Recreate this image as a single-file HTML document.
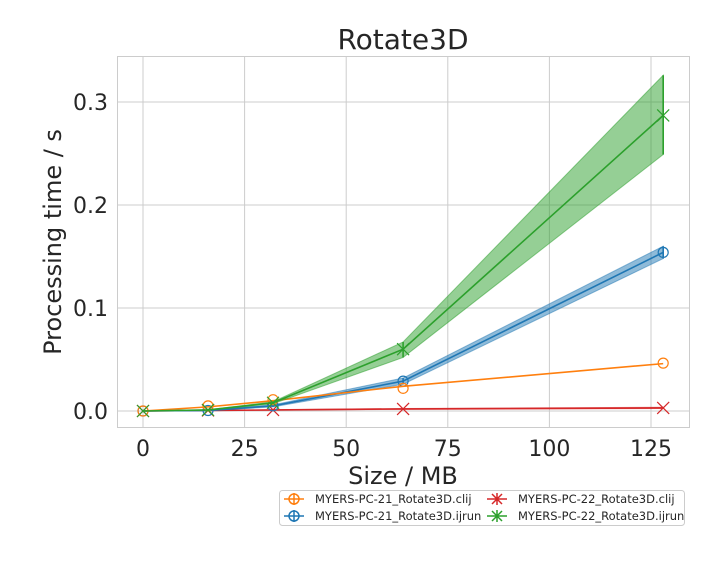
<!DOCTYPE html>
<html><head><meta charset="utf-8"><style>
body{margin:0;background:#fff;font-family:"Liberation Sans","DejaVu Sans",sans-serif;}
svg text{font-family:"DejaVu Sans","Liberation Sans",sans-serif;fill:#262626;}
</style></head><body>
<svg id="c" width="720" height="560" xmlns="http://www.w3.org/2000/svg">
<rect x="117" y="56" width="573" height="372" fill="#fff"/>
<g id="grid"></g>
<g id="series"></g>
<g id="axes"></g>
<text x="403" y="49" font-size="28" text-anchor="middle">Rotate3D</text>
<text x="403" y="484" font-size="24" text-anchor="middle">Size / MB</text>
<text transform="translate(61,242) rotate(-90)" font-size="24" text-anchor="middle">Processing time / s</text>
<g>
<rect x="279.5" y="490.5" width="405" height="35" rx="3" fill="#fff" stroke="#ccc"/>
<g><line x1="284" y1="499" x2="304" y2="499" stroke="#ff7f0e" stroke-width="1.5"/><circle cx="294" cy="499" r="5" fill="none" stroke="#ff7f0e" stroke-width="1.5"/><line x1="294" y1="493" x2="294" y2="505" stroke="#ff7f0e" stroke-width="1.5"/><text x="315" y="503" font-size="11.5">MYERS-PC-21_Rotate3D.clij</text></g>
<g><line x1="284" y1="516" x2="304" y2="516" stroke="#1f77b4" stroke-width="1.5"/><circle cx="294" cy="516" r="5" fill="none" stroke="#1f77b4" stroke-width="1.5"/><line x1="294" y1="510" x2="294" y2="522" stroke="#1f77b4" stroke-width="1.5"/><text x="315" y="520" font-size="11.5">MYERS-PC-21_Rotate3D.ijrun</text></g>
<g><line x1="487" y1="499" x2="507" y2="499" stroke="#d62728" stroke-width="1.5"/><path d="M492,494 L502,504 M492,504 L502,494 M497,493 L497,505" stroke="#d62728" stroke-width="1.5"/><text x="518" y="503" font-size="11.5">MYERS-PC-22_Rotate3D.clij</text></g>
<g><line x1="487" y1="516" x2="507" y2="516" stroke="#2ca02c" stroke-width="1.5"/><path d="M492,511 L502,521 M492,521 L502,511 M497,510 L497,522" stroke="#2ca02c" stroke-width="1.5"/><text x="518" y="520" font-size="11.5">MYERS-PC-22_Rotate3D.ijrun</text></g>
</g>
</svg>
<script>
const sizes=[0,16,32,64,128];
const clij21=[0,0.005,0.011,0.022,0.0465];
const clij21Line=[0,0.004,0.010,0.024,0.046];
const ijrun21=[0,0.0005,0.005,0.029,0.154];
const ijrun21Lo=[0,0.0003,0.004,0.026,0.148];
const ijrun21Hi=[0,0.0008,0.006,0.032,0.160];
const clij22=[0,0.0005,0.001,0.002,0.003];
const ijrun22=[0,0.001,0.008,0.060,0.287];
const ijrun22Lo=[0,0.0008,0.007,0.052,0.249];
const ijrun22Hi=[0,0.0012,0.009,0.067,0.326];
const xTicks=[0,25,50,75,100,125];
const yTicks=[0.0,0.1,0.2,0.3];
const X=v=>143+v*4.064, Y=v=>411-v*1030;
const NS="http://www.w3.org/2000/svg";
function mk(p,t,a){const e=document.createElementNS(NS,t);for(const k in a)e.setAttribute(k,a[k]);p.appendChild(e);return e;}
const g=document.getElementById('grid'),ax=document.getElementById('axes'),s=document.getElementById('series');
xTicks.forEach(t=>{const l=mk(g,'line',{x1:X(t),x2:X(t),y1:56,y2:428,stroke:'#ccc','stroke-width':1});


const tx=mk(ax,'text',{x:X(t),y:456,'font-size':22,'text-anchor':'middle'});tx.textContent=t;

});
yTicks.forEach(t=>{const l=mk(g,'line',{x1:117,x2:690,y1:Y(t),y2:Y(t),stroke:'#ccc','stroke-width':1});


const tx=mk(ax,'text',{x:108,y:Y(t)+8,'font-size':22,'text-anchor':'end'});tx.textContent=t.toFixed(1);

});
const fr=mk(ax,'rect',{x:117.5,y:56.5,width:572,height:371,fill:'none',stroke:'#ccc'});


function band(lo,hi,c,name){const pts=sizes.map((x,i)=>X(x)+','+Y(hi[i])).concat(sizes.map((x,i)=>X(x)+','+Y(lo[i])).reverse());
const p=mk(s,'polygon',{points:pts.join(' '),fill:c,'fill-opacity':0.5,stroke:c,'stroke-opacity':0.5});

}
function line(v,c,name){const p=mk(s,'polyline',{points:sizes.map((x,i)=>X(x)+','+Y(v[i])).join(' '),fill:'none',stroke:c,'stroke-width':1.6});

}
function errs(lo,hi,c,name){sizes.forEach((x,i)=>{const e=mk(s,'line',{x1:X(x),x2:X(x),y1:Y(lo[i]),y2:Y(hi[i]),stroke:c,'stroke-width':1.6});

});}
function circ(v,c,name){sizes.forEach((x,i)=>{const e=mk(s,'circle',{cx:X(x),cy:Y(v[i]),r:5,fill:'none',stroke:c,'stroke-width':1.2});

});}
function cross(v,c,name){sizes.forEach((x,i)=>{const cx=X(x),cy=Y(v[i]);const e=mk(s,'path',{d:`M${cx-6},${cy-6}L${cx+6},${cy+6}M${cx-6},${cy+6}L${cx+6},${cy-6}`,stroke:c,'stroke-width':1.2});

});}
band(clij22.map(v=>v*0.8),clij22.map(v=>v*1.2),'#d62728','pc22-clij-band');
line(clij22,'#d62728','pc22-clij-line');cross(clij22,'#d62728','pc22-clij-point');
band(ijrun21Lo,ijrun21Hi,'#1f77b4','pc21-ijrun-band');
line(ijrun21,'#1f77b4','pc21-ijrun-line');errs(ijrun21Lo,ijrun21Hi,'#1f77b4','pc21-ijrun-errorbar');circ(ijrun21,'#1f77b4','pc21-ijrun-point');
line(clij21Line,'#ff7f0e','pc21-clij-line');circ(clij21,'#ff7f0e','pc21-clij-point');
band(ijrun22Lo,ijrun22Hi,'#2ca02c','pc22-ijrun-band');
line(ijrun22,'#2ca02c','pc22-ijrun-line');errs(ijrun22Lo,ijrun22Hi,'#2ca02c','pc22-ijrun-errorbar');cross(ijrun22,'#2ca02c','pc22-ijrun-point');
</script>
</body></html>
